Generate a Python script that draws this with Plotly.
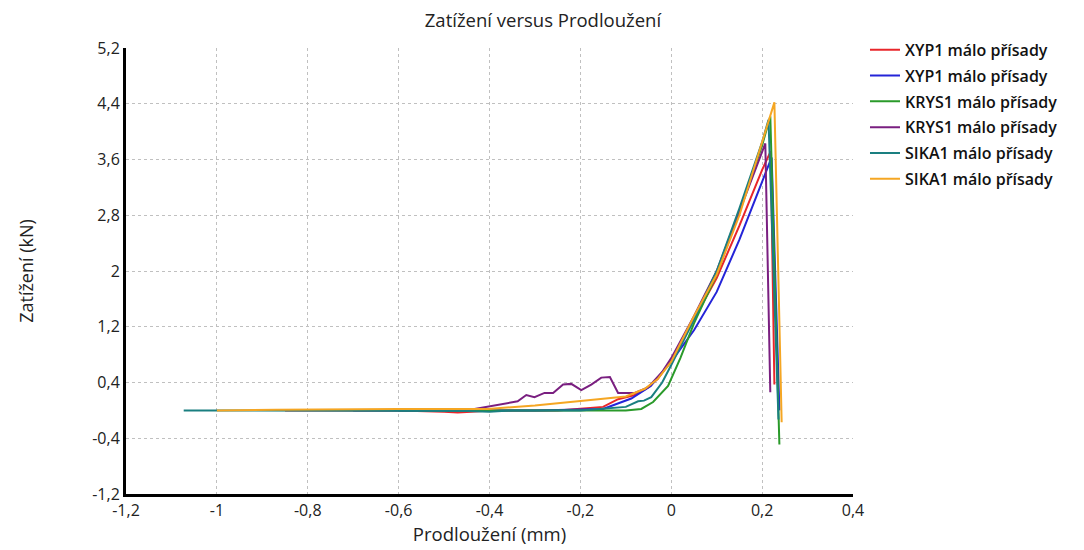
import plotly.graph_objects as go

# ---- data ----
series_names = ["XYP1 málo přísady", "XYP1 málo přísady", "KRYS1 málo přísady",
                "KRYS1 málo přísady", "SIKA1 málo přísady", "SIKA1 málo přísady"]
series_colors = ["#e8262b", "#2424d8", "#2a9a2a", "#7a1f80", "#1a7f80", "#f5a623"]

xyp1_a_x = [-0.85, -0.6, -0.5, -0.47, -0.44, -0.4, -0.25, -0.15, -0.117, -0.08, -0.058, -0.03, 0.0, 0.05, 0.1, 0.15, 0.2, 0.219, 0.227]
xyp1_a_y = [0.0, 0.0, -0.02, -0.03, -0.02, 0.0, 0.0, 0.05, 0.16, 0.22, 0.30, 0.45, 0.72, 1.3, 1.9, 2.65, 3.45, 3.72, 0.37]

xyp1_b_x = [-0.6, -0.3, -0.15, -0.088, -0.045, 0.0, 0.05, 0.1, 0.15, 0.2, 0.221, 0.238]
xyp1_b_y = [0.0, 0.0, 0.02, 0.17, 0.35, 0.7, 1.15, 1.7, 2.45, 3.3, 3.63, 0.0]

krys1_a_x = [-0.6, -0.3, -0.1, -0.066, -0.04, -0.007, 0.02, 0.05, 0.1, 0.15, 0.2, 0.218, 0.238]
krys1_a_y = [0.0, 0.0, 0.0, 0.02, 0.12, 0.35, 0.75, 1.25, 1.95, 2.85, 3.8, 4.22, -0.49]

krys1_b_x = [-0.7, -0.5, -0.433, -0.38, -0.338, -0.319, -0.301, -0.279, -0.26, -0.238, -0.22, -0.198,
             -0.176, -0.154, -0.135, -0.117, -0.08, -0.051, -0.02, 0.0, 0.05, 0.1, 0.15, 0.2, 0.207, 0.218]
krys1_b_y = [0.0, 0.0, 0.02, 0.08, 0.13, 0.22, 0.19, 0.25, 0.25, 0.37, 0.38, 0.29,
             0.37, 0.47, 0.48, 0.25, 0.25, 0.33, 0.55, 0.75, 1.35, 2.0, 2.85, 3.7, 3.83, 0.26]

sika1_a_x = [-1.073, -0.6, -0.45, -0.4, -0.35, -0.2, -0.1, -0.073, -0.06, -0.044, -0.02, 0.0, 0.05, 0.1, 0.15, 0.2, 0.214, 0.236]
sika1_a_y = [0.0, 0.0, -0.01, -0.02, 0.0, 0.0, 0.05, 0.13, 0.14, 0.19, 0.4, 0.65, 1.3, 2.0, 2.9, 3.85, 4.17, -0.13]

sika1_b_x = [-1.0, -0.87, -0.6, -0.404, -0.3, -0.205, -0.1, -0.058, -0.03, 0.0, 0.05, 0.1, 0.15, 0.2, 0.227, 0.243]
sika1_b_y = [0.0, 0.01, 0.02, 0.02, 0.07, 0.13, 0.2, 0.31, 0.45, 0.7, 1.35, 1.95, 2.8, 3.85, 4.42, -0.17]

x_tick_vals = [-1.2, -1.0, -0.8, -0.6, -0.4, -0.2, 0.0, 0.2, 0.4]
x_tick_text = ["-1,2", "-1", "-0,8", "-0,6", "-0,4", "-0,2", "0", "0,2", "0,4"]
y_tick_vals = [-1.2, -0.4, 0.4, 1.2, 2.0, 2.8, 3.6, 4.4, 5.2]
y_tick_text = ["-1,2", "-0,4", "0,4", "1,2", "2", "2,8", "3,6", "4,4", "5,2"]

all_x = [xyp1_a_x, xyp1_b_x, krys1_a_x, krys1_b_x, sika1_a_x, sika1_b_x]
all_y = [xyp1_a_y, xyp1_b_y, krys1_a_y, krys1_b_y, sika1_a_y, sika1_b_y]

fig = go.Figure()
for i, (name, color, xs, ys) in enumerate(zip(series_names, series_colors, all_x, all_y)):
    fig.add_trace(go.Scatter(x=xs, y=ys, mode="lines", name=name, legendgroup=f"g{i}",
                             line=dict(color=color, width=2)))

tick_font = dict(family="Open Sans", size=16, color="#222222")
fig.update_layout(
    width=1084, height=550,
    paper_bgcolor="white", plot_bgcolor="white",
    margin=dict(l=118, r=239, t=40, b=64, autoexpand=False),
    title=dict(text="Zatížení versus Prodloužení", x=0.4935, xanchor="center",
               y=0.977, yanchor="middle",
               font=dict(family="Open Sans", size=18.5, color="#222222")),
    legend=dict(x=1.0165, y=1.034, xanchor="left", yanchor="top",
                font=dict(family="Open Sans", size=16, color="#111111", weight=600),
                tracegroupgap=2, itemwidth=30, bgcolor="rgba(0,0,0,0)"),
    showlegend=True,
)
fig.update_xaxes(range=[-1.2, 0.4], tickvals=x_tick_vals, ticktext=x_tick_text,
                 showgrid=True, gridcolor="#c0c0c0", griddash="dot", gridwidth=1,
                 zeroline=False, showline=True, linecolor="black", linewidth=3,
                 ticks="", tickfont=tick_font,
                 title=dict(text="Prodloužení (mm)", standoff=0,
                            font=dict(family="Open Sans", size=18.5, color="#222222")))
fig.update_yaxes(range=[-1.2, 5.2], tickvals=y_tick_vals, ticktext=y_tick_text,
                 showgrid=True, gridcolor="#c0c0c0", griddash="dot", gridwidth=1,
                 zeroline=False, showline=True, linecolor="black", linewidth=3,
                 ticks="", tickfont=tick_font,
                 title=dict(text="Zatížení (kN)", standoff=54,
                            font=dict(family="Open Sans", size=18, color="#222222")))

fig.write_html("out.html")
